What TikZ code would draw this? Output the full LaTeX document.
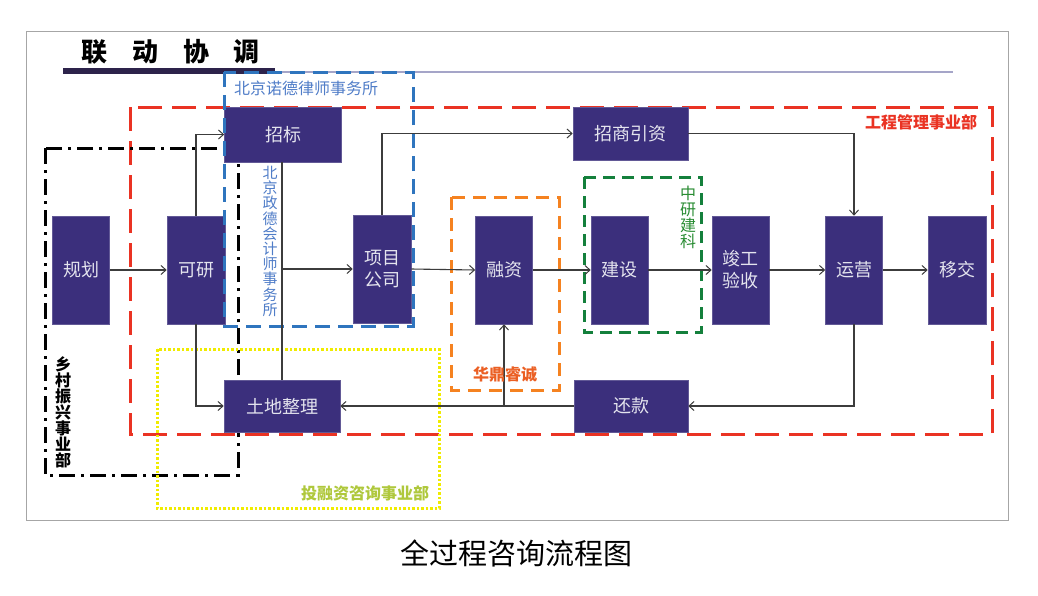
\documentclass[tikz,border=0pt]{standalone}
\usepackage{fontspec}
\setmainfont{Noto Sans CJK SC}
\usetikzlibrary{arrows.meta}
\definecolor{navy}{RGB}{59,47,124}
\definecolor{boxtxt}{RGB}{228,228,238}
\definecolor{linegray}{RGB}{60,60,60}
\definecolor{redd}{RGB}{234,51,35}
\definecolor{blued}{RGB}{47,117,190}
\definecolor{bluet}{RGB}{80,125,200}
\definecolor{oranged}{RGB}{245,130,32}
\definecolor{oranget}{RGB}{235,95,35}
\definecolor{greend}{RGB}{20,128,60}
\definecolor{greent}{RGB}{40,140,50}
\definecolor{yellowd}{RGB}{240,236,0}
\definecolor{yellowt}{RGB}{175,200,60}
\definecolor{titlebar}{RGB}{45,35,75}
\definecolor{titleline}{RGB}{165,165,200}
\tikzset{
  pbox/.style={fill=navy, draw=navy!80!white, line width=0.6pt, text=boxtxt, inner sep=0pt,
    font=\fontsize{18}{22}\selectfont, align=center},
  arr/.style={draw=linegray, line width=1.1pt, -{Straight Barb[length=5pt,width=9pt,line width=1pt]}},
  ln/.style={draw=linegray, line width=1.1pt},
  vtext/.style={inner sep=0pt, anchor=north, align=center},
}
\begin{document}
\begin{tikzpicture}[x=1pt,y=-1pt]
\useasboundingbox (0,0) rectangle (1038,595);
\fill[white] (0,0) rectangle (1038,595);
\draw[gray!70, line width=1pt] (26,31) rectangle (1008,520);

% title
\foreach \c/\x [count=\i] in {联/94,动/145,协/196,调/246}
  \node[font=\fontsize{26}{28}\selectfont\bfseries, inner sep=0pt] (t\i) at (\x,52) {\c};
\draw[titleline, line width=1.8pt] (275,72) -- (953,72);
\draw[titlebar, line width=6pt] (63,71) -- (275,71);

% dashed regions (below boxes)
\draw[redd, line width=3pt, dash pattern=on 24pt off 10pt] (130,107) rectangle (992,434);
\draw[black, line width=3pt, dash pattern=on 16pt off 6pt on 3pt off 6pt] (45,148) rectangle (238,475);
\draw[yellowd, line width=3pt, dash pattern=on 2.5pt off 2pt] (157,349) rectangle (439,508);
\draw[oranged, line width=3pt, dash pattern=on 13pt off 8pt] (451,197) rectangle (559,390);
\draw[greend, line width=3pt, dash pattern=on 12pt off 7pt] (584,177) rectangle (701,332);

% boxes
\node[pbox, minimum width=57pt, minimum height=108pt] (guihua) at (81,270) {规划};
\node[pbox, minimum width=58pt, minimum height=108pt] (keyan) at (196,270) {可研};
\node[pbox, minimum width=117pt, minimum height=55pt] (zhaobiao) at (283,134.5) {招标};
\node[pbox, minimum width=58pt, minimum height=108pt] (xmgs) at (382,269) {项目\\公司};
\node[pbox, minimum width=116pt, minimum height=52pt] (tudi) at (282,406) {土地整理};
\node[pbox, minimum width=57pt, minimum height=108pt] (rongzi) at (504,270) {融资};
\node[pbox, minimum width=57pt, minimum height=108pt] (jianshe) at (619.5,270) {建设};
\node[pbox, minimum width=57pt, minimum height=108pt] (jungong) at (740.5,270) {竣工\\验收};
\node[pbox, minimum width=57pt, minimum height=108pt] (yunying) at (854,270) {运营};
\node[pbox, minimum width=58pt, minimum height=108pt] (yijiao) at (957,270) {移交};
\node[pbox, minimum width=115pt, minimum height=53pt] (zhaoshang) at (630.5,133.5) {招商引资};
\node[pbox, minimum width=114pt, minimum height=52pt] (huankuan) at (631,406) {还款};

% blue dashed region (on top)
\draw[blued, line width=3pt, dash pattern=on 15pt off 8pt] (224,72) rectangle (413,326);

% connectors
\draw[arr] (guihua.east) -- (keyan.west);
\draw[arr] (keyan.north) |- (zhaobiao.west);
\draw[arr] (keyan.south) |- (tudi.west);
\draw[ln] (tudi.north |- zhaobiao.south) -- (tudi.north);
\coordinate (jx) at (tudi.north |- xmgs.west);
\draw[arr] (jx) -- (xmgs.west);
\draw[arr] (xmgs.north) |- (zhaoshang.west);
\draw[arr] (xmgs.east) -- (rongzi.west);
\draw[arr] (rongzi.east) -- (jianshe.west);
\draw[arr] (jianshe.east) -- (jungong.west);
\draw[arr] (jungong.east) -- (yunying.west);
\draw[arr] (yunying.east) -- (yijiao.west);
\draw[arr] (zhaoshang.east) -| (yunying.north);
\draw[arr] (yunying.south) |- (huankuan.east);
\draw[arr] (huankuan.west) -- (tudi.east);
\coordinate (jr) at (rongzi.south |- huankuan.west);
\draw[arr] (jr) -- (rongzi.south);

% region labels
\node[text=bluet, font=\fontsize{16}{18}\selectfont, inner sep=0pt] (lbnd) at (306,88) {北京诺德律师事务所};
\node[vtext, text=bluet, font=\fontsize{15}{15.2}\selectfont] (lbzd) at (270,166) {北\\京\\政\\德\\会\\计\\师\\事\\务\\所};
\node[vtext, text=greent, font=\fontsize{16}{16}\selectfont] (lzy) at (688,186) {中\\研\\建\\科};
\node[text=redd, font=\fontsize{16}{18}\selectfont\bfseries, inner sep=0pt] (lgc) at (921,122) {工程管理事业部};
\node[text=oranget, font=\fontsize{16}{18}\selectfont\bfseries, inner sep=0pt] (lhd) at (505,374) {华鼎睿诚};
\node[text=yellowt, font=\fontsize{16}{18}\selectfont\bfseries, inner sep=0pt] (ltr) at (365,493) {投融资咨询事业部};
\node[vtext, text=black, font=\fontsize{16}{16}\selectfont\bfseries] (lxc) at (63,356) {乡\\村\\振\\兴\\事\\业\\部};

% caption
\node[font=\fontsize{29}{32}\selectfont, inner sep=0pt] (cap) at (516,553) {全过程咨询流程图};
\end{tikzpicture}
\end{document}
